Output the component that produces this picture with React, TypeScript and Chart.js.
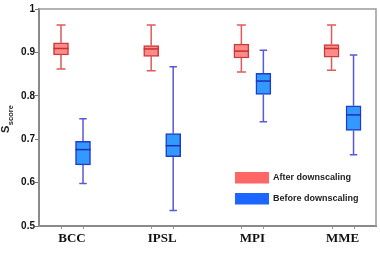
import React, { useEffect, useRef } from "react";
import { Chart, registerables } from "chart.js";

Chart.register(...registerables);

const categories = ["BCC", "IPSL", "MPI", "MME"];
const seriesNames = ["After downscaling", "Before downscaling"];

const afterMin = [0.862, 0.858, 0.855, 0.859];
const afterQ1 = [0.894, 0.891, 0.887, 0.889];
const afterMed = [0.909, 0.908, 0.903, 0.909];
const afterQ3 = [0.922, 0.916, 0.919, 0.918];
const afterMax = [0.963, 0.963, 0.963, 0.963];

const beforeMin = [0.598, 0.536, 0.74, 0.664];
const beforeQ1 = [0.641, 0.66, 0.803, 0.72];
const beforeMed = [0.676, 0.685, 0.834, 0.756];
const beforeQ3 = [0.695, 0.713, 0.852, 0.777];
const beforeMax = [0.747, 0.867, 0.905, 0.894];

const yTicks = [0.5, 0.6, 0.7, 0.8, 0.9, 1];

const OFF = 0.122;

const stats = [
  { min: afterMin, q1: afterQ1, med: afterMed, q3: afterQ3, max: afterMax, whisker: "#e05a5a", medColor: "#c83030", cap: 9 },
  { min: beforeMin, q1: beforeQ1, med: beforeMed, q3: beforeQ3, max: beforeMax, whisker: "#5858d8", medColor: "#1c2fb8", cap: 7.5 },
];

const legendColors = ["#ff6666", "#1a66ff"];

const boxPlugin = {
  id: "boxWhiskers",
  beforeDatasetsDraw(chart: any) {
    const ctx = chart.ctx;
    const y = chart.scales.y;
    stats.forEach((s, di) => {
      const meta = chart.getDatasetMeta(di);
      meta.data.forEach((el: any, j: number) => {
        const cx = el.x;
        ctx.save();
        ctx.strokeStyle = s.whisker;
        ctx.lineWidth = 1.5;
        ctx.beginPath();
        ctx.moveTo(cx, y.getPixelForValue(s.max[j]));
        ctx.lineTo(cx, y.getPixelForValue(s.q3[j]));
        ctx.moveTo(cx, y.getPixelForValue(s.q1[j]));
        ctx.lineTo(cx, y.getPixelForValue(s.min[j]));
        ctx.moveTo(cx - s.cap / 2, y.getPixelForValue(s.max[j]));
        ctx.lineTo(cx + s.cap / 2, y.getPixelForValue(s.max[j]));
        ctx.moveTo(cx - s.cap / 2, y.getPixelForValue(s.min[j]));
        ctx.lineTo(cx + s.cap / 2, y.getPixelForValue(s.min[j]));
        ctx.stroke();
        ctx.restore();
      });
    });
  },
  afterDatasetsDraw(chart: any) {
    const ctx = chart.ctx;
    const y = chart.scales.y;
    stats.forEach((s, di) => {
      const meta = chart.getDatasetMeta(di);
      meta.data.forEach((el: any, j: number) => {
        const w = el.width;
        const py = y.getPixelForValue(s.med[j]);
        ctx.save();
        ctx.strokeStyle = s.medColor;
        ctx.lineWidth = 1.5;
        ctx.beginPath();
        ctx.moveTo(el.x - w / 2, py);
        ctx.lineTo(el.x + w / 2, py);
        ctx.stroke();
        ctx.restore();
      });
    });
  },
  afterDraw(chart: any) {
    const ctx = chart.ctx;
    const a = chart.chartArea;
    ctx.save();
    // frame
    ctx.strokeStyle = "#9a9a9a";
    ctx.lineWidth = 1.5;
    ctx.beginPath();
    ctx.moveTo(a.left, a.top);
    ctx.lineTo(a.right, a.top);
    ctx.lineTo(a.right, a.bottom);
    ctx.stroke();
    // x tick marks at box positions
    ctx.strokeStyle = "#999";
    ctx.lineWidth = 1;
    stats.forEach((_, di) => {
      chart.getDatasetMeta(di).data.forEach((el: any) => {
        ctx.beginPath();
        ctx.moveTo(Math.round(el.x) + 0.5, a.bottom + 1);
        ctx.lineTo(Math.round(el.x) + 0.5, a.bottom + 3);
        ctx.stroke();
      });
    });
    // legend
    const lx = a.left + 196;
    const ly = [a.top + 163, a.top + 184];
    ctx.font = "bold 9px 'Liberation Sans', Arial, sans-serif";
    ctx.textBaseline = "middle";
    ctx.textAlign = "left";
    chart.data.datasets.forEach((ds: any, i: number) => {
      ctx.fillStyle = legendColors[i];
      ctx.fillRect(lx, ly[i], 34, 11.5);
      ctx.fillStyle = "#222";
      ctx.fillText(ds.label, lx + 38, ly[i] + 6);
    });
    // y-axis title: S_score
    ctx.translate(8.5, 133);
    ctx.rotate(-Math.PI / 2);
    ctx.fillStyle = "#222";
    ctx.textBaseline = "alphabetic";
    ctx.font = "bold 11px 'Liberation Sans', Arial, sans-serif";
    ctx.fillText("S", 0, 0);
    const sw = ctx.measureText("S").width;
    ctx.font = "bold 7.5px 'Liberation Sans', Arial, sans-serif";
    ctx.fillText("score", sw + 0.5, 4.5);
    ctx.restore();
  },
};

export default function App() {
  const ref = useRef<HTMLCanvasElement | null>(null);
  useEffect(() => {
    document.body.style.margin = "0";
    const canvas = ref.current!;
    const chart = new Chart(canvas, {
      type: "bar",
      data: {
        datasets: [
          {
            label: seriesNames[0],
            data: categories.map((_, i) => ({ x: i + 1 - OFF, y: [afterQ1[i], afterQ3[i]] })) as any,
            backgroundColor: "#ff8a8a",
            borderColor: "#cc3a3a",
            borderWidth: 1.5,
            borderSkipped: false,
            barThickness: 15,
            grouped: false,
          } as any,
          {
            label: seriesNames[1],
            data: categories.map((_, i) => ({ x: i + 1 + OFF, y: [beforeQ1[i], beforeQ3[i]] })) as any,
            backgroundColor: "#3399ff",
            borderColor: "#1f3ccc",
            borderWidth: 1.5,
            borderSkipped: false,
            barThickness: 15,
            grouped: false,
          } as any,
        ],
      },
      options: {
        animation: false,
        responsive: false,
        layout: { padding: { top: 9, right: 4, left: 0, bottom: 0 } },
        plugins: { legend: { display: false }, tooltip: { enabled: false } },
        scales: {
          x: {
            type: "linear",
            min: 0.634,
            max: 4.371,
            offset: false,
            afterBuildTicks: (scale: any) => {
              scale.ticks = categories.map((_, i) => ({ value: i + 1 }));
            },
            afterFit: (scale: any) => {
              scale.height = 28;
            },
            grid: { display: false, drawTicks: false },
            border: { display: true, color: "#8a8a8a", width: 2 },
            ticks: {
              padding: 5,
              autoSkip: false,
              maxRotation: 0,
              color: "#111",
              font: { family: "'Liberation Serif', 'Times New Roman', serif", size: 13, weight: "bold" },
              callback: (v: any) => categories[Math.round(v) - 1] ?? "",
            },
          } as any,
          y: {
            type: "linear",
            min: 0.5,
            max: 1,
            afterBuildTicks: (scale: any) => {
              scale.ticks = yTicks.map((v) => ({ value: v }));
            },
            afterFit: (scale: any) => {
              scale.width = 39;
            },
            grid: { drawOnChartArea: false, drawTicks: true, tickLength: 4, color: "#777" },
            border: { display: true, color: "#8a8a8a", width: 2 },
            ticks: {
              padding: 0,
              color: "#111",
              font: { family: "'Liberation Sans', Arial, sans-serif", size: 10, weight: "bold" },
              callback: (v: any) => (v === 1 ? "1" : Number(v).toFixed(1)),
            },
          } as any,
        },
      },
      plugins: [boxPlugin],
    });
    return () => chart.destroy();
  }, []);
  return (
    <div style={{ width: 380, height: 254 }}>
      <canvas ref={ref} width={380} height={254} style={{ display: "block" }} />
    </div>
  );
}
